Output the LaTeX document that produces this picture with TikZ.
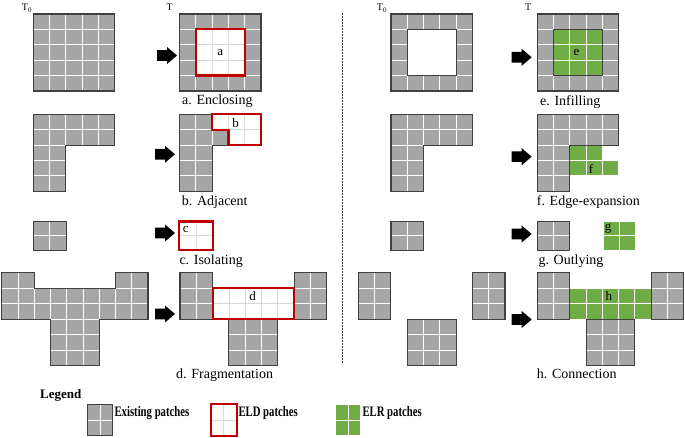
\documentclass[tikz,border=0pt]{standalone}
\usepackage{fontspec}
\usepackage{graphicx}
\setmainfont{Liberation Serif}
\definecolor{patchgray}{HTML}{A6A6A6}
\definecolor{outgray}{HTML}{404040}
\definecolor{eldred}{HTML}{C00000}
\definecolor{eldline}{HTML}{D9D9D9}
\definecolor{elrgreen}{HTML}{70AD47}
\tikzset{
 ex/.style={fill=patchgray, draw=white, line width=0.9pt},
 eld/.style={fill=white, draw=eldline, line width=0.8pt},
 elr/.style={fill=elrgreen, draw=white, line width=0.9pt},
 outl/.style={draw=outgray, line width=1.1pt},
 redl/.style={draw=eldred, line width=2.2pt},
 captext/.style={anchor=base west, inner sep=0pt, font=\fontsize{14}{16}\selectfont},
 tlab/.style={anchor=base west, inner sep=0pt, font=\fontsize{10}{12}\selectfont},
 plab/.style={inner sep=0pt, font=\fontsize{13}{15}\selectfont},
 legt/.style={anchor=base west, inner sep=0pt, font=\fontsize{14.5}{16}\selectfont\bfseries},
 sep/.style={draw=outgray, line width=0.8pt, dash pattern=on 2pt off 1pt},
 blk/.style={fill=black},
}
\newcommand{\bigarrow}[2]{\fill[blk] ({#1-20},{#2-5.3}) -- ({#1-10},{#2-5.3}) -- ({#1-10},{#2-8.5}) -- (#1,#2) -- ({#1-10},{#2+8.5}) -- ({#1-10},{#2+5.3}) -- ({#1-20},{#2+5.3}) -- cycle;}
\def\fullcells{0/0,1/0,2/0,3/0,4/0,0/1,1/1,2/1,3/1,4/1,0/2,1/2,2/2,3/2,4/2,0/3,1/3,2/3,3/3,4/3,0/4,1/4,2/4,3/4,4/4}
\def\ringcells{0/0,1/0,2/0,3/0,4/0,0/1,4/1,0/2,4/2,0/3,4/3,0/4,1/4,2/4,3/4,4/4}
\def\innercells{1/1,2/1,3/1,1/2,2/2,3/2,1/3,2/3,3/3}
\def\Lcells{0/0,1/0,2/0,3/0,4/0,0/1,1/1,2/1,3/1,4/1,0/2,1/2,0/3,1/3,0/4,1/4}
\def\sqcells{0/0,1/0,0/1,1/1}
\def\piececells{0/0,1/0,0/1,1/1,0/2,1/2,7/0,8/0,7/1,8/1,7/2,8/2,3/3,4/3,5/3,3/4,4/4,5/4,3/5,4/5,5/5}
\def\midcells{2/1,3/1,4/1,5/1,6/1,2/2,3/2,4/2,5/2,6/2}
\begin{document}
\begin{tikzpicture}[x=1pt,y=-1pt]
\useasboundingbox (0,0) rectangle (685,438);

% ---------- labels T0 / T ----------
\node[tlab] (t0l) at (21.7,10.7) {T\textsubscript{0}};
\node[tlab] (tl) at (166.5,10.7) {T};
\node[tlab] (t0r) at (376.7,10.7) {T\textsubscript{0}};
\node[tlab] (tr) at (525,10.7) {T};

% ---------- row 1 left ----------
\begin{scope}[shift={(33.3,14)}, x=16.3pt, y=-15.4pt]
 \foreach \i/\j in \fullcells {\path[ex] (\i,\j) rectangle ++(1,1);}
 \path[outl] (0,0) rectangle (5,5);
\end{scope}
\begin{scope}[shift={(179.5,14)}, x=16.3pt, y=-15.4pt]
 \foreach \i/\j in \ringcells {\path[ex] (\i,\j) rectangle ++(1,1);}
 \foreach \i/\j in \innercells {\path[eld] (\i,\j) rectangle ++(1,1);}
 \path[outl] (0,0) rectangle (5,5);
 \path[redl] (1,1) rectangle (4,4);
 \node[plab] (pa) at (2.5,2.5) {a};
\end{scope}
\bigarrow{177}{55.5}
\node[captext] (capa) at (182,104.5) {a. Enclosing};

% ---------- row 2 left ----------
\begin{scope}[shift={(33.3,114.3)}, x=16.3pt, y=-15.4pt]
 \foreach \i/\j in \Lcells {\path[ex] (\i,\j) rectangle ++(1,1);}
 \path[outl] (0,0) -- (5,0) -- (5,2) -- (2,2) -- (2,5) -- (0,5) -- cycle;
\end{scope}
\begin{scope}[shift={(179.5,114.3)}, x=16.3pt, y=-15.4pt]
 \foreach \i/\j in {0/0,1/0,0/1,1/1,2/1,0/2,1/2,0/3,1/3,0/4,1/4} {\path[ex] (\i,\j) rectangle ++(1,1);}
 \foreach \i/\j in {2/0,3/0,4/0,3/1,4/1} {\path[eld] (\i,\j) rectangle ++(1,1);}
 \path[outl] (0,0) -- (2,0) -- (2,1) -- (3,1) -- (3,2) -- (2,2) -- (2,5) -- (0,5) -- cycle;
 \path[redl] (2,0) -- (5,0) -- (5,2) -- (3,2) -- (3,1) -- (2,1) -- cycle;
 \node[plab] (pb) at (3.45,0.55) {b};
\end{scope}
\bigarrow{175}{154.3}
\node[captext] (capb) at (181.7,205.5) {b. Adjacent};

% ---------- row 3 left ----------
\begin{scope}[shift={(33.3,221.6)}, x=16.5pt, y=-14.3pt]
 \foreach \i/\j in \sqcells {\path[ex] (\i,\j) rectangle ++(1,1);}
 \path[outl] (0,0) rectangle (2,2);
\end{scope}
\begin{scope}[shift={(179.3,221.6)}, x=16.8pt, y=-14.3pt]
 \foreach \i/\j in \sqcells {\path[eld] (\i,\j) rectangle ++(1,1);}
 \path[redl] (0,0) rectangle (2,2);
 \node[plab] (pc) at (0.38,0.55) {c};
\end{scope}
\bigarrow{175}{233}
\node[captext] (capc) at (179.3,264.5) {c. Isolating};

% ---------- row 4 left ----------
\begin{scope}[shift={(1.7,272.7)}, x=16.25pt, y=-15.45pt]
 \foreach \i/\j in \piececells {\path[ex] (\i,\j) rectangle ++(1,1);}
 \foreach \i/\j in \midcells {\path[ex] (\i,\j) rectangle ++(1,1);}
 \path[outl] (0,0) -- (2,0) -- (2,1) -- (7,1) -- (7,0) -- (9,0) -- (9,3) -- (6,3) -- (6,6) -- (3,6) -- (3,3) -- (0,3) -- cycle;
\end{scope}
\begin{scope}[shift={(180,272.7)}, x=16.3pt, y=-15.45pt]
 \foreach \i/\j in \piececells {\path[ex] (\i,\j) rectangle ++(1,1);}
 \foreach \i/\j in \midcells {\path[eld] (\i,\j) rectangle ++(1,1);}
 \path[outl] (0,0) rectangle (2,3);
 \path[outl] (7,0) rectangle (9,3);
 \path[outl] (3,3) rectangle (6,6);
 \path[redl] (2,1) rectangle (7,3);
 \node[plab] (pd) at (4.45,1.5) {d};
\end{scope}
\bigarrow{175}{314}
\node[captext] (capd) at (176,378.5) {d. Fragmentation};

% ---------- separator ----------
\coordinate (s1) at (342.3,13.3);
\coordinate (s2) at (342.3,363.3);
\draw[sep] (s1) -- (s2);

% ---------- row 1 right ----------
\begin{scope}[shift={(391,14)}, x=16.3pt, y=-15.4pt]
 \foreach \i/\j in \ringcells {\path[ex] (\i,\j) rectangle ++(1,1);}
 \path[outl] (0,0) rectangle (5,5);
 \path[outl] (1,1) rectangle (4,4);
\end{scope}
\begin{scope}[shift={(537.3,14)}, x=16.3pt, y=-15.4pt]
 \foreach \i/\j in \ringcells {\path[ex] (\i,\j) rectangle ++(1,1);}
 \foreach \i/\j in \innercells {\path[elr] (\i,\j) rectangle ++(1,1);}
 \path[outl] (0,0) rectangle (5,5);
 \path[outl] (1,1) rectangle (4,4);
 \node[plab] (pe) at (2.4,2.5) {e};
\end{scope}
\bigarrow{531.7}{57.3}
\node[captext] (cape) at (540,105.5) {e. Infilling};

% ---------- row 2 right ----------
\begin{scope}[shift={(391,114.3)}, x=16.3pt, y=-15.4pt]
 \foreach \i/\j in \Lcells {\path[ex] (\i,\j) rectangle ++(1,1);}
 \path[outl] (0,0) -- (5,0) -- (5,2) -- (2,2) -- (2,5) -- (0,5) -- cycle;
\end{scope}
\begin{scope}[shift={(537.3,114.3)}, x=16.3pt, y=-15.4pt]
 \foreach \i/\j in {2/2,3/2,2/3,3/3,4/3} {\path[elr] (\i,\j) rectangle ++(1,1);}
 \foreach \i/\j in \Lcells {\path[ex] (\i,\j) rectangle ++(1,1);}
 \path[outl] (0,0) -- (5,0) -- (5,2) -- (2,2) -- (2,5) -- (0,5) -- cycle;
 \node[plab] (pf) at (3.3,3.55) {f};
\end{scope}
\bigarrow{531.7}{156.7}
\node[captext] (capf) at (536.7,206) {f. Edge-expansion};

% ---------- row 3 right ----------
\begin{scope}[shift={(391,221.6)}, x=16.2pt, y=-14.3pt]
 \foreach \i/\j in \sqcells {\path[ex] (\i,\j) rectangle ++(1,1);}
 \path[outl] (0,0) rectangle (2,2);
\end{scope}
\begin{scope}[shift={(537.3,221.6)}, x=16.3pt, y=-14.3pt]
 \foreach \i/\j in \sqcells {\path[ex] (\i,\j) rectangle ++(1,1);}
 \path[outl] (0,0) rectangle (2,2);
\end{scope}
\begin{scope}[shift={(603.3,221.6)}, x=15.9pt, y=-14.3pt]
 \foreach \i/\j in \sqcells {\path[elr] (\i,\j) rectangle ++(1,1);}
 \node[plab] (pg) at (0.3,0.5) {g};
\end{scope}
\bigarrow{531.7}{234}
\node[captext] (capg) at (538.3,264.5) {g. Outlying};

% ---------- row 4 right ----------
\begin{scope}[shift={(358.3,272.7)}, x=16.3pt, y=-15.45pt]
 \foreach \i/\j in \piececells {\path[ex] (\i,\j) rectangle ++(1,1);}
 \path[outl] (0,0) rectangle (2,3);
 \path[outl] (7,0) rectangle (9,3);
 \path[outl] (3,3) rectangle (6,6);
\end{scope}
\begin{scope}[shift={(537.3,272.7)}, x=16.25pt, y=-15.45pt]
 \foreach \i/\j in \midcells {\path[elr] (\i,\j) rectangle ++(1,1);}
 \foreach \i/\j in \piececells {\path[ex] (\i,\j) rectangle ++(1,1);}
 \path[outl] (0,0) rectangle (2,3);
 \path[outl] (7,0) rectangle (9,3);
 \path[outl] (3,3) rectangle (6,6);
 \node[plab] (ph) at (4.4,1.5) {h};
\end{scope}
\bigarrow{531.7}{319.5}
\node[captext] (caph) at (536.7,378.5) {h. Connection};

% ---------- legend ----------
\node[anchor=base west, inner sep=0pt, font=\fontsize{13}{15}\selectfont\bfseries] (leg) at (40,398) {Legend};
\begin{scope}[shift={(87.7,404.3)}, x=12.5pt, y=-15.7pt]
 \foreach \i/\j in \sqcells {\path[ex] (\i,\j) rectangle ++(1,1);}
 \path[outl] (0,0) rectangle (2,2);
\end{scope}
\node[legt] (legex) at (114.3,416) {\scalebox{0.74}[1]{Existing patches}};
\begin{scope}[shift={(211,404.3)}, x=12.8pt, y=-15.7pt]
 \foreach \i/\j in \sqcells {\path[eld] (\i,\j) rectangle ++(1,1);}
 \path[redl] (0,0) rectangle (2,2);
\end{scope}
\node[legt] (legeld) at (238.3,416) {\scalebox{0.74}[1]{ELD patches}};
\begin{scope}[shift={(335.7,404.3)}, x=12.5pt, y=-15.7pt]
 \foreach \i/\j in \sqcells {\path[elr] (\i,\j) rectangle ++(1,1);}
\end{scope}
\node[legt] (legelr) at (362.3,416) {\scalebox{0.74}[1]{ELR patches}};
\end{tikzpicture}
\end{document}
